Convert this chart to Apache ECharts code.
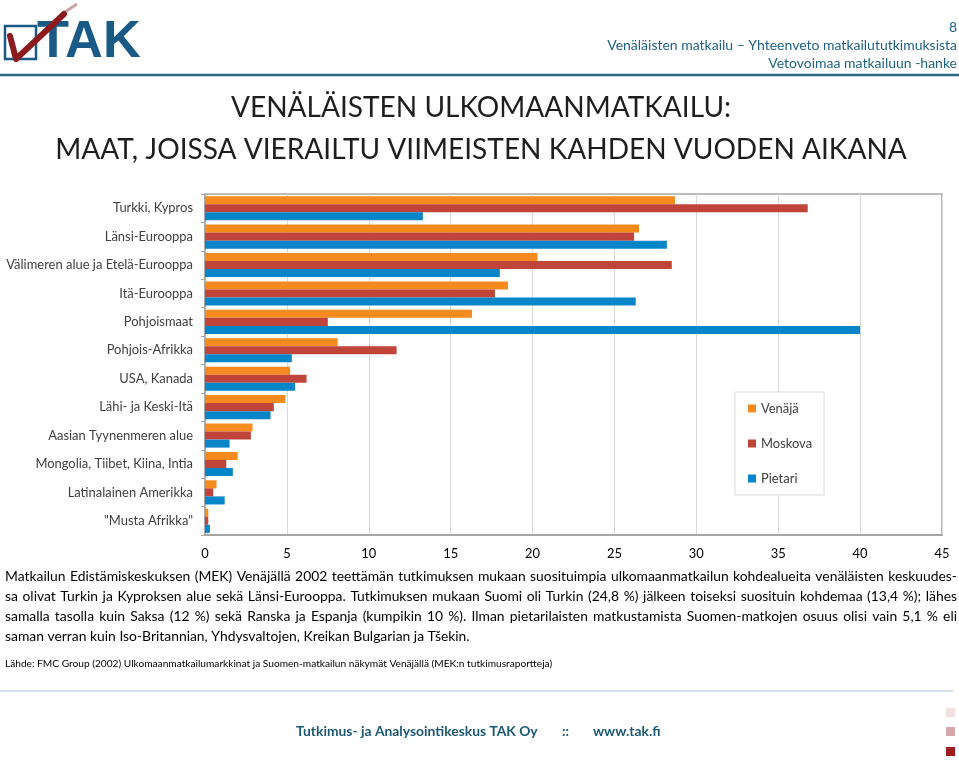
<!DOCTYPE html>
<html><head><meta charset="utf-8">
<script src="https://cdn.jsdelivr.net/npm/echarts@6/dist/echarts.min.js"></script>
<style>html,body{margin:0;padding:0;background:#fff}#c{width:959px;height:760px}</style>
</head><body><div id="c"></div>
<script>
// ---- data ----
const categories = ['Turkki, Kypros', 'Länsi-Eurooppa', 'Välimeren alue ja Etelä-Eurooppa', 'Itä-Eurooppa', 'Pohjoismaat', 'Pohjois-Afrikka', 'USA, Kanada', 'Lähi- ja Keski-Itä', 'Aasian Tyynenmeren alue', 'Mongolia, Tiibet, Kiina, Intia', 'Latinalainen Amerikka', '"Musta Afrikka"'];
const seriesNames = ['Venäjä', 'Moskova', 'Pietari'];
const venaja  = [28.7, 26.5, 20.3, 18.5, 16.3, 8.1, 5.2, 4.9, 2.9, 2.0, 0.7, 0.2];
const moskova = [36.8, 26.2, 28.5, 17.7, 7.5, 11.7, 6.2, 4.2, 2.8, 1.3, 0.5, 0.2];
const pietari = [13.3, 28.2, 18.0, 26.3, 40.0, 5.3, 5.5, 4.0, 1.5, 1.7, 1.2, 0.3];
const xMin = 0, xMax = 45, xStep = 5;

const titleLines = ['VENÄLÄISTEN ULKOMAANMATKAILU:', 'MAAT, JOISSA VIERAILTU VIIMEISTEN KAHDEN VUODEN AIKANA'];
const headerLines = ['8', 'Venäläisten matkailu – Yhteenveto matkailututkimuksista', 'Vetovoimaa matkailuun -hanke'];
const bodyLines = [
  'Matkailun Edistämiskeskuksen (MEK) Venäjällä 2002 teettämän tutkimuksen mukaan suosituimpia ulkomaanmatkailun kohdealueita venäläisten keskuudes-',
  'sa olivat Turkin ja Kyproksen alue sekä Länsi-Eurooppa. Tutkimuksen mukaan Suomi oli Turkin (24,8 %) jälkeen toiseksi suosituin kohdemaa (13,4 %); lähes',
  'samalla tasolla kuin Saksa (12 %) sekä Ranska ja Espanja (kumpikin 10 %). Ilman pietarilaisten matkustamista Suomen-matkojen osuus olisi vain 5,1 % eli',
  'saman verran kuin Iso-Britannian, Yhdysvaltojen, Kreikan Bulgarian ja Tšekin.'
];
const sourceText = 'Lähde: FMC Group (2002) Ulkomaanmatkailumarkkinat ja Suomen-matkailun näkymät Venäjällä (MEK:n tutkimusraportteja)';
const footerTexts = ['Tutkimus- ja Analysointikeskus TAK Oy', '::', 'www.tak.fi'];

// ---- helpers ----
const FF = 'Lato, "Open Sans", sans-serif';
const cv = document.createElement('canvas').getContext('2d');
function mw(text, size, weight) { cv.font = (weight || 'normal') + ' ' + size + 'px ' + FF; return cv.measureText(text).width; }
function fit(text, target, weight) { return 100 * target / mw(text, 100, weight); }
function txt(x, y, text, size, color, opts) {
  opts = opts || {};
  return { type: 'text', x: x, y: y, silent: true, style: {
    text: text, fill: color, fontSize: size, fontFamily: opts.family || FF, fontWeight: opts.weight || 'normal',
    align: opts.align || 'left', textAlign: opts.align || 'left', verticalAlign: 'middle', textVerticalAlign: 'middle' } };
}

const axisFont = Math.min(13, fit('Välimeren alue ja Etelä-Eurooppa', 187));
const colors = ['#F58A1F', '#C0443A', '#0685C9'];
const teal = '#1f6283';

const g = [];
// logo
g.push({ type: 'rect', shape: { x: 5, y: 26, width: 31, height: 33 }, style: { fill: 'none', stroke: '#1a5a86', lineWidth: 2.5 }, silent: true });
const takSize = fit('TAK', 100, 'bold');
g.push(txt(37, 43, 'TAK', takSize, '#1a5a86', { weight: 'bold', family: '"Liberation Sans", Arial, sans-serif' }));
g.push({ type: 'polyline', shape: { points: [[62, 14], [77, 4]] }, style: { stroke: '#c9a3a3', lineWidth: 3, fill: 'none' }, silent: true });
g.push({ type: 'polyline', shape: { points: [[10, 36], [16, 59], [64, 14]] }, style: { stroke: '#8c1b1f', lineWidth: 6, fill: 'none', lineJoin: 'round', lineCap: 'round' }, silent: true });
// header right
g.push(txt(957, 27, headerLines[0], 14, teal, { align: 'right' }));
const hdrSize = fit(headerLines[1], 350);
g.push(txt(957, 45, headerLines[1], hdrSize, teal, { align: 'right' }));
g.push(txt(957, 63, headerLines[2], hdrSize, teal, { align: 'right' }));
g.push({ type: 'line', shape: { x1: 0, y1: 75, x2: 959, y2: 75 }, style: { stroke: '#2f6688', lineWidth: 2.5 }, silent: true });
// title
const titleSize = fit(titleLines[1], 852);
g.push(txt(481, 108, titleLines[0], titleSize, '#1e1e1e', { align: 'center' }));
g.push(txt(481, 150, titleLines[1], titleSize, '#1e1e1e', { align: 'center' }));
// paragraph (justified)
const bodySize = fit(bodyLines[3], 465);
const bodyY = [577, 597, 617, 637];
bodyLines.forEach(function (line, i) {
  if (i === bodyLines.length - 1) { g.push(txt(5, bodyY[i], line, bodySize, '#000')); return; }
  const words = line.split(' ');
  const ws = words.map(function (w) { return mw(w, bodySize); });
  const total = ws.reduce(function (a, b) { return a + b; }, 0);
  const gap = (952 - total) / (words.length - 1);
  let x = 5;
  words.forEach(function (w, k) { g.push(txt(x, bodyY[i], w, bodySize, '#000')); x += ws[k] + gap; });
});
// source
g.push(txt(5, 664, sourceText, fit(sourceText, 548), '#000'));
// footer
g.push({ type: 'line', shape: { x1: 0, y1: 691, x2: 953, y2: 691 }, style: { stroke: '#a9bfd0', lineWidth: 1 }, silent: true });
const footSize = fit(footerTexts[0], 242, 'bold');
g.push(txt(296, 732, footerTexts[0], footSize, '#1b5876', { weight: 'bold' }));
g.push(txt(562, 732, footerTexts[1], footSize, '#1b5876', { weight: 'bold' }));
g.push(txt(593, 732, footerTexts[2], footSize, '#1b5876', { weight: 'bold' }));
[['#f1e1e2', 708], ['#d6a7aa', 727], ['#a01e22', 747]].forEach(function (s) {
  g.push({ type: 'rect', shape: { x: 946, y: s[1], width: 9, height: 9 }, style: { fill: s[0] }, silent: true });
});

const xTicks = [];
for (let v = xMin; v <= xMax; v += xStep) xTicks.push(v);

const chart = echarts.init(document.getElementById('c'), null, { renderer: 'canvas' });
chart.setOption({
  animation: false,
  textStyle: { fontFamily: FF },
  color: colors,
  grid: { left: 205, right: 17, top: 194, bottom: 225, show: true, borderColor: '#a6a6a6', borderWidth: 1.5, containLabel: false },
  legend: {
    data: seriesNames, orient: 'vertical', left: 735, top: 392, itemWidth: 8, itemHeight: 8, itemGap: 22,
    backgroundColor: '#fff', borderColor: '#d9d9d9', borderWidth: 1, padding: [10, 12, 10, 13],
    icon: 'rect', textStyle: { fontSize: axisFont, color: '#404040', fontFamily: FF }
  },
  xAxis: {
    type: 'value', min: xMin, max: xMax, interval: xStep,
    axisLine: { show: true, lineStyle: { color: '#a6a6a6', width: 2 } },
    axisTick: { show: false },
    splitLine: { show: true, lineStyle: { color: '#d9d9d9', width: 1 } },
    axisLabel: { fontSize: axisFont, color: '#000', margin: 12, fontFamily: FF,
      formatter: function (v) { return xTicks.indexOf(v) >= 0 ? String(v) : ''; } }
  },
  yAxis: {
    type: 'category', data: categories, inverse: true,
    axisLine: { show: true, lineStyle: { color: '#a6a6a6', width: 1.5 } },
    axisTick: { show: true, length: 4, lineStyle: { color: '#a6a6a6' } },
    axisLabel: { fontSize: axisFont, color: '#404040', margin: 12, fontFamily: FF, interval: 0 },
    splitLine: { show: false }
  },
  series: [
    { name: seriesNames[0], type: 'bar', data: venaja, barGap: '0%', barCategoryGap: '15%' },
    { name: seriesNames[1], type: 'bar', data: moskova, barGap: '0%', barCategoryGap: '15%' },
    { name: seriesNames[2], type: 'bar', data: pietari, barGap: '0%', barCategoryGap: '15%' }
  ],
  graphic: g
});
</script>
</body></html>
